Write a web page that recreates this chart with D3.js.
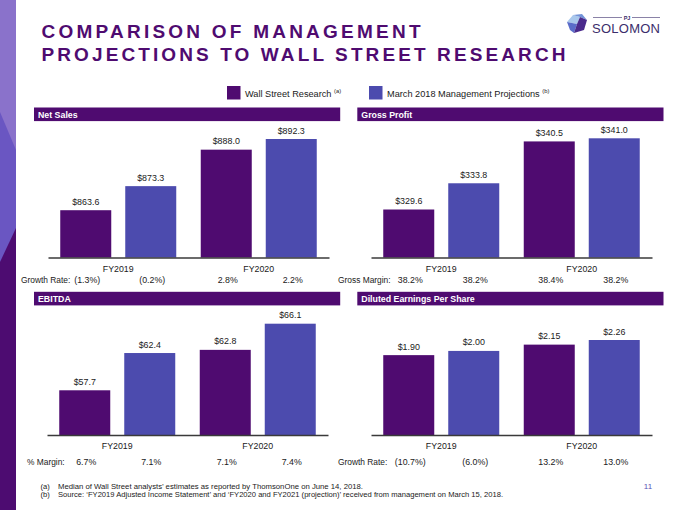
<!DOCTYPE html>
<html><head><meta charset="utf-8">
<script src="https://cdn.jsdelivr.net/npm/d3@7"></script>
<style>
html,body{margin:0;padding:0;background:#fff;}
svg{display:block;font-family:"Liberation Sans",Arial,sans-serif;}
</style></head>
<body>
<svg id="chart" width="680" height="510"></svg>
<script>
// ---------- DATA ----------
const categories = ["FY2019", "FY2020"];
const seriesNames = ["Wall Street Research", "March 2018 Management Projections"];
const seriesNotes = ["(a)", "(b)"];

const netSalesWS = [863.6, 888.0];
const netSalesMP = [873.3, 892.3];
const netSalesGrowth = ["(1.3%)", "(0.2%)", "2.8%", "2.2%"];
const netSalesAxis = [844.5, 892.3];

const grossProfitWS = [329.6, 340.5];
const grossProfitMP = [333.8, 341.0];
const grossMargin = ["38.2%", "38.2%", "38.4%", "38.2%"];
const grossProfitAxis = [321.9, 341.0];

const ebitdaWS = [57.7, 62.8];
const ebitdaMP = [62.4, 66.1];
const ebitdaMargin = ["6.7%", "7.1%", "7.1%", "7.4%"];
const ebitdaAxis = [52.06, 66.1];

const epsWS = [1.90, 2.15];
const epsMP = [2.00, 2.26];
const epsGrowth = ["(10.7%)", "(6.0%)", "13.2%", "13.0%"];
const epsAxis = [0, 2.26];

const footnotes = [
  ["(a)", "Median of Wall Street analysts’ estimates as reported by ThomsonOne on June 14, 2018."],
  ["(b)", "Source: ‘FY2019 Adjusted Income Statement’ and ‘FY2020 and FY2021 (projection)’ received from management on March 15, 2018."]
];

// ---------- STYLE ----------
const C_WS = "#4f0b70", C_MP = "#4c4bae", C_HEAD = "#4f0b70", C_TEXT = "#1a1a1a";
const svg = d3.select("#chart");

// left decorative stripe
svg.append("rect").attr("x",0).attr("y",0).attr("width",16).attr("height",510).attr("fill","#6a56c2");
svg.append("polygon").attr("points","0,0 16,0 16,150 0,112").attr("fill","#8a72cb");
svg.append("polygon").attr("points","16,228 16,510 0,510 0,262").attr("fill","#4d0c71");

// title
const title = svg.append("g").attr("fill","#4f0b70").attr("font-weight","bold").attr("font-size",19);
title.append("text").attr("x",41.5).attr("y",37.5).attr("textLength",379).attr("lengthAdjust","spacing").text("COMPARISON OF MANAGEMENT");
title.append("text").attr("x",41.5).attr("y",60.5).attr("textLength",524).attr("lengthAdjust","spacing").text("PROJECTIONS TO WALL STREET RESEARCH");

// logo
const logo = svg.append("g");
logo.append("polygon").attr("points","567,22 573,15 580,17 577,24").attr("fill","#a9c8ec");
logo.append("polygon").attr("points","573,15 582,14 587,20 580,17").attr("fill","#7394d8");
logo.append("polygon").attr("points","567,22 577,24 574,33 570,30").attr("fill","#5a6cc9");
logo.append("polygon").attr("points","577,24 580,17 587,20 584,30 574,33").attr("fill","#4a2a8c");
logo.append("line").attr("x1",593).attr("x2",622).attr("y1",17.5).attr("y2",17.5).attr("stroke","#3b2d6b").attr("stroke-width",0.6);
logo.append("line").attr("x1",632).attr("x2",660).attr("y1",17.5).attr("y2",17.5).attr("stroke","#3b2d6b").attr("stroke-width",0.6);
logo.append("text").attr("x",627).attr("y",19.5).attr("text-anchor","middle").attr("font-size",5.5).attr("font-weight","bold").attr("fill","#3b2d6b").text("PJ");
logo.append("text").attr("x",592).attr("y",33).attr("font-size",13).attr("fill","#3b2d6b").attr("textLength",68).attr("lengthAdjust","spacing").text("SOLOMON");

// legend
const legendX = [227, 369];
seriesNames.forEach((s,i)=>{
  const g = svg.append("g");
  g.append("rect").attr("x",legendX[i]).attr("y",86).attr("width",13.5).attr("height",13.5).attr("fill",i?C_MP:C_WS);
  const t = g.append("text").attr("x",legendX[i]+18).attr("y",96.5).attr("font-size",9.2).attr("fill",C_TEXT);
  t.append("tspan").text(s + " ");
  t.append("tspan").attr("font-size",5.8).attr("dy",-3.5).text(seriesNotes[i]);
});

// panels
const panels = [
  {name:"Net Sales", ws:netSalesWS, mp:netSalesMP, rows:netSalesGrowth, rowLabel:"Growth Rate:", domain:netSalesAxis,
   fmt:d=>"$"+d3.format(".1f")(d), hx:34, hy:107.5, base:257.6, top:139, plotL:48, rowLabelX:21, rowDy:25.4},
  {name:"Gross Profit", ws:grossProfitWS, mp:grossProfitMP, rows:grossMargin, rowLabel:"Gross Margin:", domain:grossProfitAxis,
   fmt:d=>"$"+d3.format(".1f")(d), hx:357.3, hy:107.5, base:257.6, top:138.3, plotL:371, rowLabelX:338, rowDy:25.4},
  {name:"EBITDA", ws:ebitdaWS, mp:ebitdaMP, rows:ebitdaMargin, rowLabel:"% Margin:", domain:ebitdaAxis,
   fmt:d=>"$"+d3.format(".1f")(d), hx:34, hy:291.8, base:435, top:323.7, plotL:47, rowLabelX:27, rowDy:29.8},
  {name:"Diluted Earnings Per Share", ws:epsWS, mp:epsMP, rows:epsGrowth, rowLabel:"Growth Rate:", domain:epsAxis,
   fmt:d=>"$"+d3.format(".2f")(d), hx:357.3, hy:291.8, base:435, top:340, plotL:371, rowLabelX:338, rowDy:30.3}
];

panels.forEach(p=>{
  const g = svg.append("g");
  g.append("rect").attr("x",p.hx).attr("y",p.hy).attr("width",306.2).attr("height",13.6).attr("fill",C_HEAD);
  g.append("text").attr("x",p.hx+4).attr("y",p.hy+10).attr("font-size",8.8).attr("font-weight","bold").attr("fill","#fff").text(p.name);

  const x0 = d3.scaleBand().domain(categories).range([p.plotL, p.plotL+281]).paddingInner(0.1744).paddingOuter(0.0872);
  const x1 = d3.scaleBand().domain([0,1]).range([0, x0.bandwidth()]).paddingInner(0.2154).paddingOuter(0);
  const y = d3.scaleLinear().domain(p.domain).range([p.base, p.top]);

  const data = [];
  categories.forEach((c,ci)=>{
    [p.ws, p.mp].forEach((arr,si)=>{
      data.push({cat:c, s:si, v:arr[ci], row:p.rows[ci*2+si]});
    });
  });

  g.selectAll("rect.bar").data(data).join("rect").attr("class","bar")
    .attr("x",d=>x0(d.cat)+x1(d.s)).attr("width",x1.bandwidth())
    .attr("y",d=>y(d.v)).attr("height",d=>p.base-y(d.v))
    .attr("fill",d=>d.s?C_MP:C_WS);

  g.selectAll("text.val").data(data).join("text").attr("class","val")
    .attr("x",d=>x0(d.cat)+x1(d.s)+x1.bandwidth()/2).attr("y",d=>y(d.v)-5.5)
    .attr("text-anchor","middle").attr("font-size",8.9).attr("fill",C_TEXT)
    .text(d=>p.fmt(d.v));

  const axis = d3.axisBottom(x0).tickSize(0).tickPadding(8);
  const ag = g.append("g").attr("transform",`translate(0,${p.base})`).call(axis);
  ag.select(".domain").attr("stroke","#3a3a3a").attr("stroke-width",1.5);
  ag.selectAll("text").attr("font-size",8.8).attr("fill",C_TEXT).attr("font-family","Liberation Sans, Arial, sans-serif");

  g.append("text").attr("x",p.rowLabelX).attr("y",p.base+p.rowDy).attr("font-size",8.4).attr("fill",C_TEXT).text(p.rowLabel);
  g.selectAll("text.row").data(data).join("text").attr("class","row")
    .attr("x",d=>x0(d.cat)+x1(d.s)+x1.bandwidth()/2+1.5).attr("y",p.base+p.rowDy)
    .attr("text-anchor","middle").attr("font-size",8.8).attr("fill",C_TEXT)
    .text(d=>d.row);
});

// footnotes
const footW = [305, 445];
footnotes.forEach((f,i)=>{
  svg.append("text").attr("x",40.5).attr("y",488.5+i*8.3).attr("font-size",7.6).attr("fill",C_TEXT).text(f[0]);
  svg.append("text").attr("x",58).attr("y",488.5+i*8.3).attr("font-size",7.6).attr("fill",C_TEXT)
    .attr("textLength",footW[i]).attr("lengthAdjust","spacingAndGlyphs").text(f[1]);
});
svg.append("text").attr("x",648).attr("y",488.5).attr("text-anchor","middle").attr("font-size",8).attr("fill","#5a4fb5").text("11");
</script>
</body></html>
